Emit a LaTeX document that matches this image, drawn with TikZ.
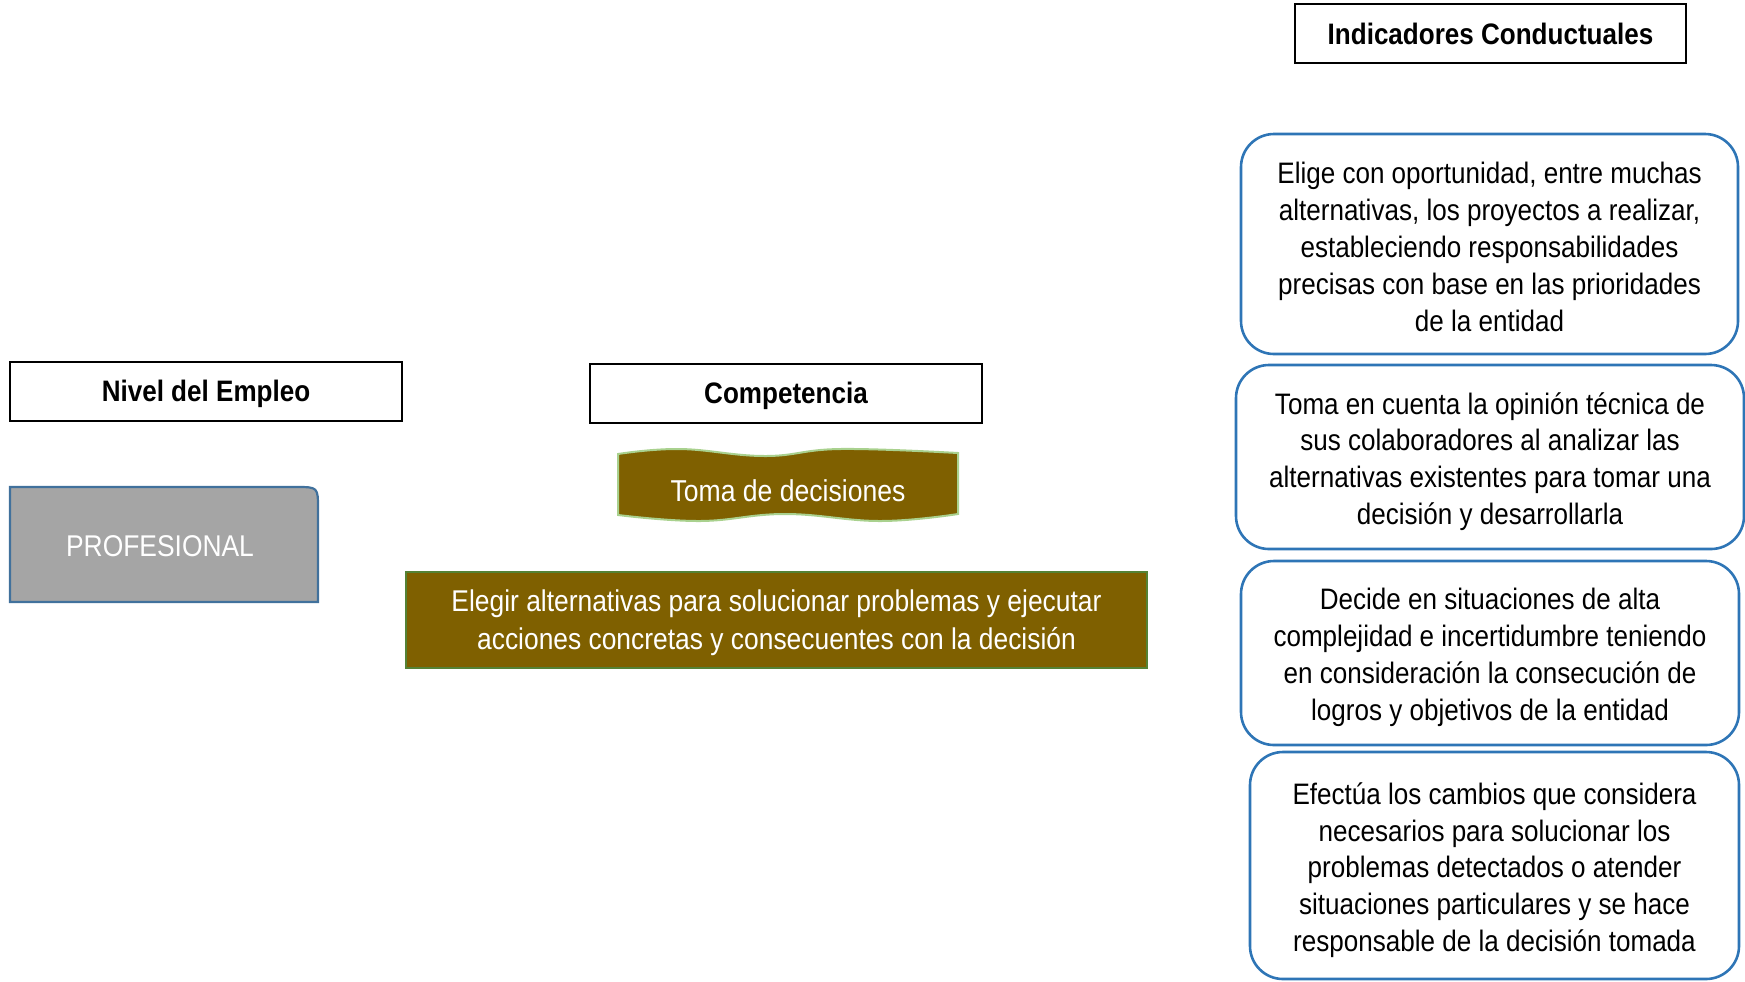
\documentclass[tikz,border=0pt]{standalone}
\usepackage{fontspec}
\setmainfont{Liberation Sans}[FakeStretch=0.88]
\definecolor{indblue}{RGB}{46,117,182}
\definecolor{olive}{RGB}{127,96,0}
\definecolor{lightgreen}{RGB}{169,209,142}
\definecolor{darkgreen}{RGB}{84,130,53}
\definecolor{profgray}{RGB}{165,165,165}
\definecolor{profblue}{RGB}{65,113,156}
\begin{document}
\begin{tikzpicture}[x=0.5pt,y=-0.5pt,
  hdrbox/.style={draw=black, line width=1pt, fill=white, minimum width=196pt,
    minimum height=29.5pt, inner sep=0pt},
  hdrtext/.style={inner sep=0pt, font=\fontsize{14.8}{18}\selectfont\bfseries},
  indbox/.style={draw=indblue, line width=1.3pt, rounded corners=16.5pt, inner sep=0pt},
  indtext/.style={align=center, inner sep=0pt,
    font=\fontsize{14.8}{18.4}\selectfont},
  whitetext/.style={text=white, align=center, inner sep=0pt,
    font=\fontsize{15}{19}\selectfont}]
\useasboundingbox (0,0) rectangle (1745,981);

% column headers
\node[hdrbox] (nivel) at (206,391.5) {};
\node[hdrtext] (niveltxt) at (206,394) {Nivel del Empleo};
\node[hdrbox] (comp) at (786,393) {};
\node[hdrtext] (comptxt) at (786,395.5) {Competencia};
\node[hdrbox, minimum width=195.5pt] (indic) at (1490.5,33.5) {};
\node[hdrtext] (indictxt) at (1490.5,33.5) {Indicadores Conductuales};

% level of the job: box with a single rounded corner
\filldraw[fill=profgray, draw=profblue, line width=1.1pt]
  (10,602) -- (10,487) -- (296,487)
  .. controls (318,487) .. (318,509)
  -- (318,602) -- cycle;
\node[whitetext] (prof) at (160,546) {PROFESIONAL};

% competence name on a wave banner
\filldraw[fill=olive, draw=lightgreen, line width=1pt]
  plot[smooth, tension=0.7] coordinates {(618,454) (680,449) (765,456) (840,449) (958,453)}
  -- plot[smooth, tension=0.7] coordinates {(958,514) (880,521) (785,514) (700,521) (618,515)}
  -- cycle;
\node[whitetext, font=\fontsize{15.1}{19}\selectfont] (toma) at (788,490.5) {Toma de decisiones};

% competence definition
\node[fill=olive, draw=darkgreen, line width=1.1pt, inner sep=0pt,
  minimum width=370.5pt, minimum height=48pt] (elegir) at (776.5,620) {};
\node[whitetext] (elegirtxt) at (776.5,622.5)
  {Elegir alternativas para solucionar problemas y ejecutar\\
   acciones concretas y consecuentes con la decisión};

% behavioural indicators
\node[indbox, minimum width=248.5pt, minimum height=110pt] (ind1) at (1489.5,244) {};
\node[indtext] (ind1txt) at (1489.5,247)
  {Elige con oportunidad, entre muchas\\
   alternativas, los proyectos a realizar,\\
   estableciendo responsabilidades\\
   precisas con base en las prioridades\\
   de la entidad};
\node[indbox, minimum width=254pt, minimum height=92pt] (ind2) at (1490,457) {};
\node[indtext] (ind2txt) at (1490,461.5)
  {Toma en cuenta la opinión técnica de\\
   sus colaboradores al analizar las\\
   alternativas existentes para tomar una\\
   decisión y desarrollarla};
\node[indbox, minimum width=249pt, minimum height=92pt] (ind3) at (1490,653) {};
\node[indtext] (ind3txt) at (1490,657.5)
  {Decide en situaciones de alta\\
   complejidad e incertidumbre teniendo\\
   en consideración la consecución de\\
   logros y objetivos de la entidad};
\node[indbox, minimum width=244.5pt, minimum height=113.5pt] (ind4) at (1494.5,865.5) {};
\node[indtext] (ind4txt) at (1494.5,870)
  {Efectúa los cambios que considera\\
   necesarios para solucionar los\\
   problemas detectados o atender\\
   situaciones particulares y se hace\\
   responsable de la decisión tomada};
\end{tikzpicture}
\end{document}
